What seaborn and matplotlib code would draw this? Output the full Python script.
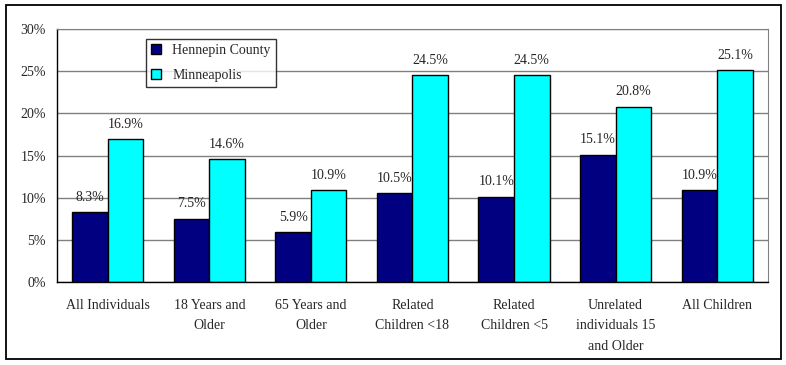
import pandas as pd
import matplotlib.pyplot as plt
import seaborn as sns
from matplotlib.patches import Rectangle

# data
categories = ['All Individuals', '18 Years and\nOlder', '65 Years and\nOlder', 'Related\nChildren <18',
              'Related\nChildren <5', 'Unrelated\nindividuals 15\nand Older', 'All Children']
hennepin = [8.3, 7.5, 5.9, 10.5, 10.1, 15.1, 10.9]
minneapolis = [16.9, 14.6, 10.9, 24.5, 24.5, 20.8, 25.1]
series = ['Hennepin County', 'Minneapolis']
colors = ['#000080', '#00FFFF']

df = pd.DataFrame({
    'cat': categories * 2,
    'val': hennepin + minneapolis,
    'series': [series[0]] * 7 + [series[1]] * 7,
})

sns.set_style('white')
plt.rcParams['font.family'] = ['Liberation Serif', 'DejaVu Serif']
fs = 10

fig = plt.figure(figsize=(7.86, 3.65), dpi=100)
fig.patches.append(Rectangle((0.007, 0.016), 0.987, 0.969, transform=fig.transFigure,
                             fill=False, edgecolor='black', linewidth=1.3))
ax = fig.add_axes([0.0725, 0.2274, 0.9045, 0.6931])

sns.barplot(data=df, x='cat', y='val', hue='series', palette=colors, width=0.7,
            saturation=1, edgecolor='black', linewidth=1, ax=ax, legend=True)

ax.set_ylim(0, 30)
ax.set_xlim(-0.5, 6.5)
ax.set_yticks(range(0, 31, 5))
ax.set_yticklabels([f'{v}%' for v in range(0, 31, 5)], fontsize=fs)
ax.yaxis.grid(True, color='#808080', linewidth=1)
ax.set_axisbelow(True)
ax.set_xticks(range(7))
ax.set_xticklabels(categories, fontsize=fs, linespacing=1.75)
ax.set_xticks([i - 0.5 for i in range(8)], minor=True)
ax.tick_params(axis='x', which='major', length=0, pad=12)
ax.tick_params(axis='x', which='minor', length=5, width=1, color='black', direction='out')
ax.tick_params(axis='y', length=5, width=1, color='black', direction='out', pad=3)
ax.set_xlabel('')
ax.set_ylabel('')

for s in ['top', 'right']:
    ax.spines[s].set_visible(True)
    ax.spines[s].set_color('#808080')
for s in ['left', 'bottom']:
    ax.spines[s].set_color('black')
    ax.spines[s].set_linewidth(1)

for cont in ax.containers:
    labels = [f'{v:.1f}%' for v in cont.datavalues]
    ax.bar_label(cont, labels=labels, padding=6, fontsize=fs)

leg = ax.legend(loc='upper left', bbox_to_anchor=(0.125, 0.96), borderaxespad=0,
                frameon=True, fancybox=False, edgecolor='black', fontsize=fs,
                handlelength=0.75, handleheight=0.75, handletextpad=0.8,
                borderpad=0.35, labelspacing=0.85)
leg.get_frame().set_linewidth(1)

fig.savefig('out.png', dpi=100)
